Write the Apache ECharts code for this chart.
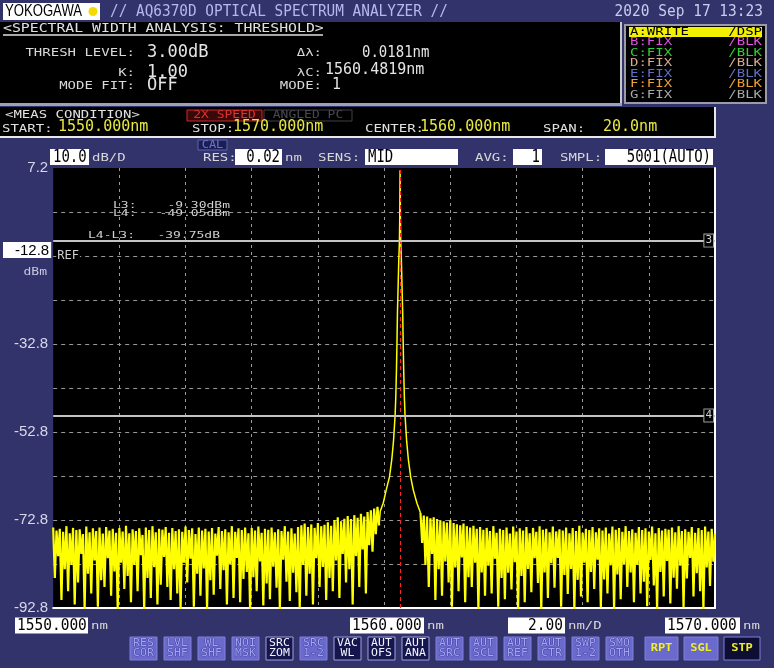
<!DOCTYPE html>
<html><head><meta charset="utf-8">
<script src="https://cdn.jsdelivr.net/npm/echarts@6/dist/echarts.min.js"></script>
<style>html,body{margin:0;padding:0;background:#33336b;}#c{width:774px;height:668px;}</style>
</head><body><div id="c"></div>
<script>
// ---------- data ----------
const yTickLabels = ['7.2', '-12.8', '-32.8', '-52.8', '-72.8', '-92.8'];
const yMin = -92.8, yMax = 7.2, yStep = 10;
const xStart = 1550, xStop = 1570, xStep = 2;
const bottomLabels = ['1550.000', '1560.000', '1570.000'];
const spanPerDiv = '2.00';
const refLevel = -12.8;
const markerL3 = -9.30, markerL4 = -49.05;
const centerWl = 1560.4819;

const noiseStep = 0.05;
const noiseLeftStart = 1550.00;
const noiseLeft = [
-74.5,-86,-75.2,-81,-74.8,-91,-75.5,-84,-74.2,-89,
-75.8,-83,-74.6,-92,-75.1,-87,-74.9,-80.5,-76,-93,
-74.3,-85,-75.6,-89.5,-74.7,-82,-75.3,-92.5,-74.5,-86.5,
-75.9,-88,-74.4,-81.5,-75.2,-90,-74.8,-84.5,-75.7,-93,
-74.6,-82.5,-75.4,-88.5,-74.1,-85.5,-75.8,-91.5,-74.9,-83,
-75.3,-89,-74.7,-80.8,-76.2,-93,-74.5,-86,-75.1,-90.5,
-74.2,-83.5,-75.6,-92,-74.8,-87.5,-75.0,-81.2,-74.4,-88,
-75.7,-91,-74.6,-84,-75.3,-89.5,-74.9,-93,-75.5,-82.5,
-74.3,-87,-75.1,-81.6,-74.7,-92.5,-76.0,-85,-74.5,-90,
-75.2,-83.8,-74.8,-93,-75.4,-86.5,-74.6,-89.8,-75.9,-80.9,
-74.4,-88.5,-75.3,-84.2,-74.9,-92,-75.6,-82.8,-74.2,-90.5,
-75.5,-81.4,-74.7,-91.5,-75.1,-86.2,-74.5,-84.6,-75.8,-93,
-74.6,-85.8,-75.2,-89,-74.3,-82.2,-75.7,-92.2,-74.8,-87.2,
-75.0,-90.8,-74.5,-83.4,-75.6,-88.2,-74.9,-93,-75.3,-81.8,
-74.2,-86.8,-75.4,-91.2,-74.7,-84.8,-75.9,-89.2,-74.4,-92.8,
-74.0,-83,-73.6,-90,-74.4,-85,-73.8,-92,-74.6,-81.5,
-73.5,-88,-74.2,-83.5,-73.9,-91,-73.3,-86,-74.1,-89,
-72.8,-82,-72.2,-90.5,-73.1,-80.5,-72.5,-87,-71.9,-84,
-72.6,-92,-71.7,-81,-72.3,-88,-71.4,-79.5,-72.0,-89.5,
-71.0,-78.5,-70.6,-80,-70.2,-76,-69.8,-74
];
const peakWl = [1559.883,1559.973,1560.063,1560.163,1560.233,1560.283,1560.333,1560.353,1560.373,1560.388,1560.403,1560.423,1560.443,1560.463,1560.473,1560.483,
                1560.493,1560.503,1560.523,1560.543,1560.563,1560.578,1560.593,1560.613,1560.633,1560.683,1560.733,1560.803,1560.883,1560.993,1561.083];
const peakDb = [-70.8,-69,-66,-63,-59,-55,-49,-45,-39,-33,-26,-20,-14,-9.5,-4,6.7,
                -4,-9.5,-14,-20,-26,-33,-39,-45,-49,-55,-59,-63,-66,-69,-70.8];
const noiseRightStart = 1561.10;
const noiseRight = [
-71.2,-78,-71.8,-83,-72.0,-88,-72.4,-80.5,-72.2,-91,
-72.6,-84,-72.9,-90,-73.1,-82.2,-73.4,-87,-72.8,-92.5,
-73.5,-83.6,-73.8,-89,-74.0,-81.3,-73.6,-91.5,-74.2,-85.8,
-74.5,-88,-74.1,-82.5,-74.8,-93,-74.4,-84.7,-75.0,-90,
-74.6,-83.2,-75.3,-89.5,-74.2,-81.6,-75.7,-92.5,-74.8,-86,
-75.1,-90.8,-74.5,-84.8,-75.9,-88.6,-74.3,-82.4,-75.4,-93,
-74.7,-85.5,-75.2,-91.5,-74.4,-83.9,-75.8,-89.2,-74.6,-81.5,
-75.5,-87.1,-74.2,-93,-75.0,-84.7,-74.8,-90.5,-75.6,-82.6,
-74.3,-88.2,-75.4,-81.4,-74.9,-92.5,-75.2,-85.3,-74.5,-89.6,
-75.8,-83.9,-74.6,-93,-75.3,-86.4,-74.1,-90.2,-75.7,-82.5,
-74.8,-91.5,-75.1,-84.6,-74.4,-88.5,-75.6,-81.8,-74.7,-92.6,
-75.2,-86.3,-74.5,-89.5,-75.9,-83.1,-74.3,-93,-75.0,-85.2,
-74.6,-90.8,-75.5,-82.8,-74.2,-88,-75.3,-84.7,-74.9,-91.5,
-75.7,-83,-74.4,-89.5,-75.1,-86.8,-74.7,-92.4,-75.4,-81.9,
-74.3,-87.7,-75.8,-93,-74.6,-84.6,-75.2,-90.2,-74.8,-82.1,
-75.0,-91.8,-74.5,-85.9,-75.6,-88.4,-74.2,-83.2,-75.3,-92.6,
-74.9,-86.1,-75.5,-81.4,-74.4,-90.2,-75.7,-84.9,-74.6,-89,
-75.1,-93,-74.3,-83.6,-75.4,-87.8,-74.8,-82.3,-75.9
];

// ---------- build trace pieces ----------
const leftPts = noiseLeft.map((v, i) => [+(noiseLeftStart + i * noiseStep).toFixed(3), v]);
const rightPts = noiseRight.map((v, i) => [+(noiseRightStart + i * noiseStep).toFixed(3), v]);
const peakPts = [leftPts[leftPts.length - 1]].concat(peakWl.map((w, i) => [w, peakDb[i]]), [rightPts[0]]);

// ---------- helpers ----------
const MONO = 'DejaVu Sans Mono';
function txt(x, y, text, o) {
  o = o || {};
  const st = { text: text, x: 0, y: 0, fill: o.c || '#e4e4e4', fontSize: o.fs || 14,
      fontFamily: o.ff || MONO, fontWeight: o.w || 'normal', align: o.a || 'left', verticalAlign: 'middle' };
  if (o.st) { st.stroke = o.st; st.lineWidth = o.lw || 1; }
  return { type: 'text', x: x, y: y, scaleX: o.sx || 1, scaleY: o.sy || 1, z: 50, style: st };
}
function small(x, y, text, c, a, fs, sy) { return txt(x, y, text, { fs: fs || 14, sy: sy || 0.8, c: c || '#d8d8d8', a: a }); }
function rect(x, y, w, h, fill, stroke, lw) {
  return { type: 'rect', z: 40, shape: { x: x, y: y, width: w, height: h },
    style: { fill: fill, stroke: stroke || null, lineWidth: lw || 0 } };
}
const G = [];
// title bar
G.push(rect(3, 3, 97, 17, '#ffffff'));
G.push(txt(5, 12, 'YOKOGAWA', { ff: 'Liberation Sans', fs: 16, sx: 0.82, c: '#000' }));
G.push({ type: 'circle', z: 45, shape: { cx: 93, cy: 11.5, r: 4.5 }, style: { fill: '#f5dc00' } });
G.push(txt(110, 12, '// AQ6370D OPTICAL SPECTRUM ANALYZER //', { fs: 14.4, sy: 1.15, c: '#b4b8ee' }));
G.push(txt(763, 12, '2020 Sep 17 13:23', { fs: 14.5, sy: 1.1, c: '#c8ccf0', a: 'right' }));
// top panel
G.push(rect(0, 22, 620, 82, '#000'));
G.push(rect(620, 22, 2, 84, '#c8c8c8'));
G.push(rect(0, 103, 622, 3, '#a0a0b4'));
G.push(small(3, 29, '<SPECTRAL WIDTH ANALYSIS: THRESHOLD>', '#e0e0e0', 'left', 14.8));
G.push({ type: 'line', z: 45, shape: { x1: 3, y1: 35, x2: 323, y2: 35 }, style: { stroke: '#e0e0e0', lineWidth: 1.5 } });
G.push(small(135, 53.5, 'THRESH LEVEL:', null, 'right'));
G.push(txt(147, 52.5, '3.00dB', { fs: 17, sy: 1.05 }));
G.push(small(135, 73.5, 'K:', null, 'right'));
G.push(txt(147, 72, '1.00', { fs: 17, sy: 1.05 }));
G.push(small(135, 86, 'MODE FIT:', null, 'right'));
G.push(txt(147, 85, 'OFF', { fs: 17, sy: 1.05 }));
G.push(small(322, 53.5, 'Δλ:', null, 'right'));
G.push(txt(362, 52.5, '0.0181nm', { fs: 14, sy: 1.15 }));
G.push(small(322, 73.5, 'λC:', null, 'right'));
G.push(txt(325, 69.5, '1560.4819nm', { fs: 15, sy: 1.1 }));
G.push(small(322, 86, 'MODE:', null, 'right'));
G.push(txt(332, 85, '1', { fs: 15, sy: 1.1 }));
// trace list box
G.push(rect(625, 25, 141, 78, '#000', '#9a9aa8', 2));
G.push(rect(629, 27, 133, 10, '#f0f000'));
const traceRows = [['A:WRITE', '/DSP', '#000000'], ['B:FIX', '/BLK', '#e050e0'], ['C:FIX', '/BLK', '#30d030'],
  ['D:FIX', '/BLK', '#d8a890'], ['E:FIX', '/BLK', '#6070c0'], ['F:FIX', '/BLK', '#f0a030'], ['G:FIX', '/BLK', '#a8a8a8']];
traceRows.forEach((r, i) => {
  const y = 32 + i * 10.5;
  G.push(small(630, y, r[0], r[2], 'left', 14, 0.78));
  G.push(small(762, y, r[1], r[2], 'right', 14, 0.78));
});
// meas condition panel
G.push(rect(0, 107, 715, 30, '#000'));
G.push(rect(0, 136, 716, 2, '#e8e8e8'));
G.push(rect(714, 107, 2, 31, '#e8e8e8'));
G.push(small(5, 115.5, '<MEAS CONDITION>', '#e0e0e0'));
G.push(rect(187, 110, 75, 11, '#3a0808', '#d02828', 1));
G.push(small(224.5, 115.5, '2X SPEED', '#e03030', 'center', 13));
G.push(rect(264, 110, 88, 11, '#000', '#404048', 1));
G.push(small(308, 115.5, 'ANGLED PC', '#484850', 'center', 13));
const Y = '#e8e840';
G.push(small(2, 129.5, 'START:', '#e0e0e0'));
G.push(txt(58, 127, '1550.000nm', { fs: 15, sy: 1.1, c: Y }));
G.push(small(192, 129.5, 'STOP:', '#e0e0e0'));
G.push(txt(233, 127, '1570.000nm', { fs: 15, sy: 1.1, c: Y }));
G.push(small(365, 129.5, 'CENTER:', '#e0e0e0'));
G.push(txt(420, 127, '1560.000nm', { fs: 15, sy: 1.1, c: Y }));
G.push(small(543, 129.5, 'SPAN:', '#e0e0e0'));
G.push(txt(603, 127, '20.0nm', { fs: 15, sy: 1.1, c: Y }));
// setting row
G.push(rect(50, 149, 39, 16, '#fff'));
G.push(txt(53, 157.5, '10.0', { fs: 14, sy: 1.2, c: '#000' }));
G.push(small(92, 158.5, 'dB/D'));
G.push(rect(198, 140, 29, 10, '#1c1c58', '#5868a8', 1));
G.push(small(212.5, 145, 'CAL', '#6a7ab8', 'center', 12));
G.push(small(203, 158.5, 'RES:'));
G.push(rect(235, 149, 47, 16, '#fff'));
G.push(txt(280, 157.5, '0.02', { fs: 14, sy: 1.2, c: '#000', a: 'right' }));
G.push(small(285, 158.5, 'nm'));
G.push(small(318, 158.5, 'SENS:'));
G.push(rect(365, 149, 93, 16, '#fff'));
G.push(txt(368, 157.5, 'MID', { fs: 14, sy: 1.2, c: '#000' }));
G.push(small(475, 158.5, 'AVG:'));
G.push(rect(513, 149, 29, 16, '#fff'));
G.push(txt(540, 157.5, '1', { fs: 14, sy: 1.2, c: '#000', a: 'right' }));
G.push(small(560, 158.5, 'SMPL:'));
G.push(rect(605, 149, 108, 16, '#fff'));
G.push(txt(711, 157.5, '5001(AUTO)', { fs: 14, sy: 1.2, c: '#000', a: 'right' }));
// y unit under the reference level box
G.push(small(47, 272, 'dBm', '#c8c8e0', 'right', 13, 0.8));
// annotations inside plot
G.push(small(113, 205.5, 'L3:', '#d0d0d0', 'left', 13, 0.72));
G.push(small(230, 205.5, '-9.30dBm', '#d0d0d0', 'right', 13, 0.72));
G.push(small(113, 213.7, 'L4:', '#d0d0d0', 'left', 13, 0.72));
G.push(small(230, 213.7, '-49.05dBm', '#d0d0d0', 'right', 13, 0.72));
G.push(small(88, 235.3, 'L4-L3:', '#d0d0d0', 'left', 13, 0.72));
G.push(small(220, 235.3, '-39.75dB', '#d0d0d0', 'right', 13, 0.72));
// bottom wavelength boxes
const bx = [[15, 73], [350, 74], [665, 75]];
bottomLabels.forEach((s, i) => {
  const b = bx[i];
  G.push(rect(b[0], 617.5, b[1], 16, '#fff'));
  G.push(txt(b[0] + 2, 625.5, s, { fs: 14.5, sy: 1.1, c: '#000' }));
  G.push(small(b[0] + b[1] + 3, 626.5, 'nm'));
});
G.push(rect(508, 617.5, 57, 16, '#fff'));
G.push(txt(563, 625.5, spanPerDiv, { fs: 14.5, sy: 1.1, c: '#000', a: 'right' }));
G.push(small(568, 626.5, 'nm/D'));
// buttons
const buttons = [['RES','COR',0],['LVL','SHF',0],['WL','SHF',0],['NOI','MSK',0],['SRC','ZOM',1],['SRC','1-2',0],['VAC','WL',1],
  ['AUT','OFS',1],['AUT','ANA',1],['AUT','SRC',0],['AUT','SCL',0],['AUT','REF',0],['AUT','CTR',0],['SWP','1-2',0],['SMO','OTH',0]];
buttons.forEach((b, i) => {
  const x = 130 + i * 34;
  const dark = b[2] === 1;
  G.push(rect(x, 637, 27, 23, dark ? '#16164e' : '#6a6acc', dark ? '#a0a0e0' : '#8080dc', 1));
  const o = dark ? { fs: 11.5, sy: 0.85, c: '#f4f4ff', a: 'center' }
                 : { fs: 11.5, sy: 0.85, c: '#a4a4f0', a: 'center', st: '#34349a', lw: 0.8 };
  G.push(txt(x + 13.5, 643.5, b[0], o));
  G.push(txt(x + 13.5, 653, b[1], o));
});
const big = [[645, 33, 'RPT', '#6a6acc'], [684, 34, 'SGL', '#6a6acc'], [724, 36, 'STP', '#0e0e34']];
big.forEach(b => {
  G.push(rect(b[0], 637, b[1], 23, b[3], '#8080dc', 1));
  G.push(txt(b[0] + b[1] / 2, 648.5, b[2], { fs: 12, sy: 0.9, c: '#f0f020', a: 'center', w: 'bold' }));
});

// ---------- chart ----------
const chart = echarts.init(document.getElementById('c'), null, { renderer: 'canvas' });
const fmt1 = v => (Math.round(v * 10) / 10).toFixed(1);
const noiseStyle = { type: 'line', showSymbol: false, symbol: 'none', sampling: null, z: 3, clip: true, silent: true,
  lineStyle: { color: '#ffff00', width: 2.2 } };
chart.setOption({
  animation: false,
  backgroundColor: '#33336b',
  grid: { left: 52, right: 59, top: 168, bottom: 60, show: true, backgroundColor: '#000', borderWidth: 0 },
  xAxis: {
    type: 'value', min: xStart, max: xStop, interval: xStep,
    axisLine: { show: true, onZero: false, lineStyle: { color: '#ffffff', width: 2 } },
    axisTick: { show: false }, axisLabel: { show: false },
    splitLine: { show: true, showMinLine: false, showMaxLine: false, lineStyle: { color: '#9a9a9a', width: 1, type: [3, 4] } }
  },
  yAxis: [{
    type: 'value', min: yMin, max: yMax, interval: yStep, position: 'left',
    axisLine: { show: false }, axisTick: { show: false },
    axisLabel: {
      show: true, margin: 2, showMinLabel: true, showMaxLabel: true,
      formatter: v => { const s = fmt1(v); if (s === fmt1(refLevel)) return '{box|' + s + '}\n{sp| }'; return yTickLabels.indexOf(s) >= 0 ? '{n|' + s + '}' : ''; },
      rich: {
        n: { color: '#d8d8e8', fontSize: 15, fontFamily: 'Liberation Sans', padding: [0, 3, 0, 0] },
        box: { backgroundColor: '#ffffff', color: '#000', fontSize: 15, fontFamily: 'Liberation Sans', padding: [1, 2, 0, 12], lineHeight: 15 },
        sp: { fontSize: 2, lineHeight: 12 }
      }
    },
    splitLine: { show: true, showMinLine: false, showMaxLine: false, lineStyle: { color: '#9a9a9a', width: 1, type: [4, 4] } }
  }, {
    type: 'value', min: yMin, max: yMax, position: 'right',
    axisLine: { show: true, onZero: false, lineStyle: { color: '#ffffff', width: 2 } },
    axisTick: { show: false }, axisLabel: { show: false }, splitLine: { show: false }
  }],
  graphic: { elements: G },
  series: [
    Object.assign({ name: 'noiseLeft', data: leftPts }, noiseStyle),
    Object.assign({ name: 'noiseRight', data: rightPts }, noiseStyle),
    {
      name: 'peak', type: 'line', data: peakPts, showSymbol: false, symbol: 'none', sampling: null, z: 4, clip: true,
      lineStyle: { color: '#ffff00', width: 1.5 },
      markLine: {
        silent: true, symbol: 'none', animation: false,
        data: [
          { xAxis: centerWl, lineStyle: { color: '#ff2020', width: 1, type: [4, 3] }, label: { show: false } },
          { yAxis: markerL3, lineStyle: { color: '#c4c4c4', width: 2, type: 'solid' },
            label: { show: true, position: 'insideEnd', distance: 2, formatter: '3', color: '#d0d0d0', fontSize: 11, fontFamily: MONO, backgroundColor: '#000', borderColor: '#a0a0a0', borderWidth: 1, padding: [1, 1, 0, 1] } },
          { yAxis: markerL4, lineStyle: { color: '#c4c4c4', width: 2, type: 'solid' },
            label: { show: true, position: 'insideEnd', distance: 2, formatter: '4', color: '#d0d0d0', fontSize: 11, fontFamily: MONO, backgroundColor: '#000', borderColor: '#a0a0a0', borderWidth: 1, padding: [1, 1, 0, 1] } },
          { yAxis: refLevel, lineStyle: { color: 'rgba(0,0,0,0)', width: 1, type: 'solid' },
            label: { show: true, position: 'insideStart', distance: 3, formatter: 'REF', color: '#d0d0d0', fontSize: 12, fontFamily: MONO, backgroundColor: '#000', padding: [0, 1] } }
        ]
      }
    }
  ]
});
</script></body></html>
